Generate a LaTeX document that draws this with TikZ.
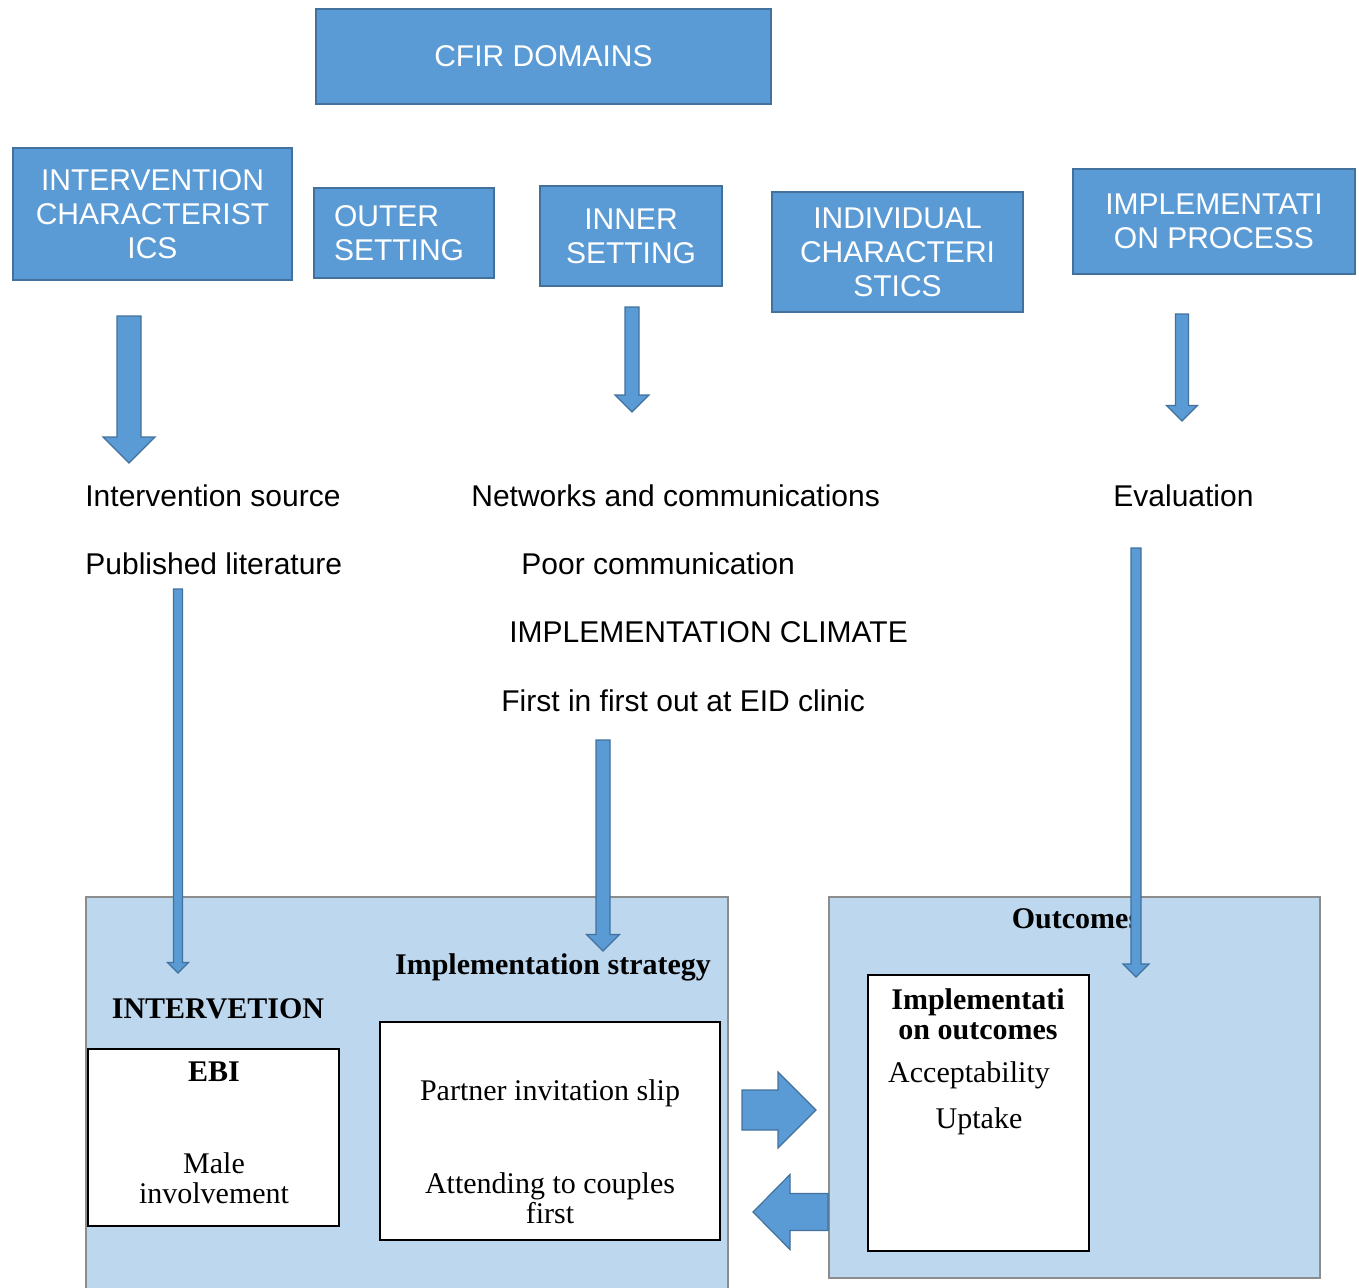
\documentclass[tikz,border=0pt]{standalone}
\usepackage{fontspec}
\setmainfont{Liberation Serif}
\setsansfont{Liberation Sans}
\usepackage{xcolor}
\usetikzlibrary{calc,positioning}

\definecolor{cfirblue}{HTML}{5B9BD5}
\definecolor{cfiredge}{HTML}{41719C}
\definecolor{panelblue}{HTML}{BDD7EE}

% block arrow pointing down: start, tip, shaft half width, head half width
\newcommand{\blockdown}[4]{%
  \draw[blockarrow] let \p1=#1, \p2=#2 in
    ({\x1-#3},\y1) -- ({\x1+#3},\y1) -- ({\x1+#3},{\y2+#4}) -- ({\x1+#4},{\y2+#4})
    -- (\x1,\y2) -- ({\x1-#4},{\y2+#4}) -- ({\x1-#3},{\y2+#4}) -- cycle;}
% block arrow sideways: start, tip, shaft half width, head half width, signed head length
\newcommand{\blockside}[5]{%
  \draw[blockarrow] let \p1=#1, \p2=#2 in
    (\x1,{\y1-#3}) -- (\x1,{\y1+#3}) -- ({\x2+#5},{\y1+#3}) -- ({\x2+#5},{\y1+#4})
    -- (\x2,\y1) -- ({\x2+#5},{\y1-#4}) -- ({\x2+#5},{\y1-#3}) -- cycle;}

\begin{document}
\begin{tikzpicture}[x=0.5pt,y=-0.5pt,
  cfirbox/.style={draw=cfiredge, line width=1pt, fill=cfirblue, text=white,
    font=\sffamily\fontsize{15}{17}\selectfont, align=center, inner sep=0pt},
  blockarrow/.style={draw=cfiredge, line width=0.6pt, fill=cfirblue},
  finding/.style={font=\sffamily\fontsize{15}{17}\selectfont, anchor=west, inner sep=0pt},
  panel/.style={draw=gray!90, line width=0.7pt, fill=panelblue, inner sep=0pt},
  whitebox/.style={draw=black, line width=1.2pt, fill=white, inner sep=0pt},
  serif/.style={font=\rmfamily\fontsize{15}{15}\selectfont, align=center, inner sep=0pt},
  serifbold/.style={serif, font=\rmfamily\bfseries\fontsize{15}{15}\selectfont}]
  \useasboundingbox (0,0) rectangle (1359,1287);

  % CFIR domains
  \node[cfirbox, minimum width=227.5pt, minimum height=47.5pt] (cfir) at (543.5,56.5) {CFIR DOMAINS};
  \node[cfirbox, minimum width=139.5pt, minimum height=66pt] (intchar) at (152.5,214)
    {INTERVENTION\\CHARACTERIST\\ICS};
  \node[cfirbox, minimum width=90pt, minimum height=45pt, text width=70pt, inner xsep=10pt,
    align=left] (outer) at (404,233) {OUTER\\SETTING};
  \node[cfirbox, minimum width=91pt, minimum height=50pt] (inner) at (631,236) {INNER\\SETTING};
  \node[cfirbox, minimum width=125.5pt, minimum height=60pt] (indiv) at (897.5,252)
    {INDIVIDUAL\\CHARACTERI\\STICS};
  \node[cfirbox, minimum width=141pt, minimum height=52.5pt] (process) at (1214,221.5)
    {IMPLEMENTATI\\ON PROCESS};

  % constructs found
  \node[finding] (source) at (85,496) {Intervention source};
  \node[finding] (literature) at (85,564) {Published literature};
  \node[finding] (networks) at (471,496) {Networks and communications};
  \node[finding] (poorcomm) at (521,564) {Poor communication};
  \node[finding] (climate) at (509,632) {IMPLEMENTATION CLIMATE};
  \node[finding] (fifo) at (501,701) {First in first out at EID clinic};
  \node[finding] (evaluation) at (1113,496) {Evaluation};

  % intervention and strategy panel
  \node[panel, minimum width=321pt, minimum height=199pt] (intpanel) at (407,1096) {};
  \node[whitebox, minimum width=125.5pt, minimum height=88.5pt] (ebi) at (213.5,1137.5) {};
  \node[whitebox, minimum width=170pt, minimum height=109pt] (strategy) at (550,1131) {};
  \node[serifbold] (intlabel) at (218,1009) {INTERVETION};
  \node[serifbold] (stratlabel) at (553,967) {Implementation strategy};
  \node[serifbold] (ebilabel) at (214,1072) {EBI};
  \node[serif] (male) at (214,1178) {Male\\involvement};
  \node[serif] (slip) at (550,1093) {Partner invitation slip};
  \node[serif] (couples) at (550,1198) {Attending to couples\\first};

  % outcomes panel
  \node[panel, minimum width=245.5pt, minimum height=190.5pt] (outpanel) at (1074.5,1087.5) {};
  \node[whitebox, minimum width=110.5pt, minimum height=138pt] (impout) at (978.5,1113) {};
  \node[serifbold] (outlabel) at (1076,919) {Outcomes};
  \node[serifbold] (impoutlabel) at (978,1014) {Implementati\\on outcomes};
  \node[serif] (accept) at (969,1075) {Acceptability};
  \node[serif] (uptake) at (979,1121) {Uptake};

  % arrow ends
  \coordinate (icfrom) at (129,316);   \coordinate (icto) at (129,463);
  \coordinate (isfrom) at (632,307);   \coordinate (isto) at (632,412);
  \coordinate (ipfrom) at (1182,314);  \coordinate (ipto) at (1182,421);
  \coordinate (litfrom) at (178,589);  \coordinate (litto) at (178,973);
  \coordinate (fifofrom) at (603,740); \coordinate (fifoto) at (603,951);
  \coordinate (evalfrom) at (1136,548); \coordinate (evalto) at (1136,977);
  \coordinate (fwdfrom) at (742,1110); \coordinate (fwdto) at (816,1110);
  \coordinate (backfrom) at (828,1212); \coordinate (backto) at (753,1212);

  \blockdown{(icfrom)}{(icto)}{6pt}{13pt}
  \blockdown{(isfrom)}{(isto)}{3.5pt}{8.5pt}
  \blockdown{(ipfrom)}{(ipto)}{3.25pt}{7.75pt}
  \blockdown{(litfrom)}{(litto)}{2.25pt}{5.25pt}
  \blockdown{(fifofrom)}{(fifoto)}{3.5pt}{8.25pt}
  \blockdown{(evalfrom)}{(evalto)}{2.5pt}{6.5pt}
  \blockside{(fwdfrom)}{(fwdto)}{10pt}{19pt}{-19pt}
  \blockside{(backfrom)}{(backto)}{9.25pt}{18.75pt}{18.5pt}
\end{tikzpicture}
\end{document}
